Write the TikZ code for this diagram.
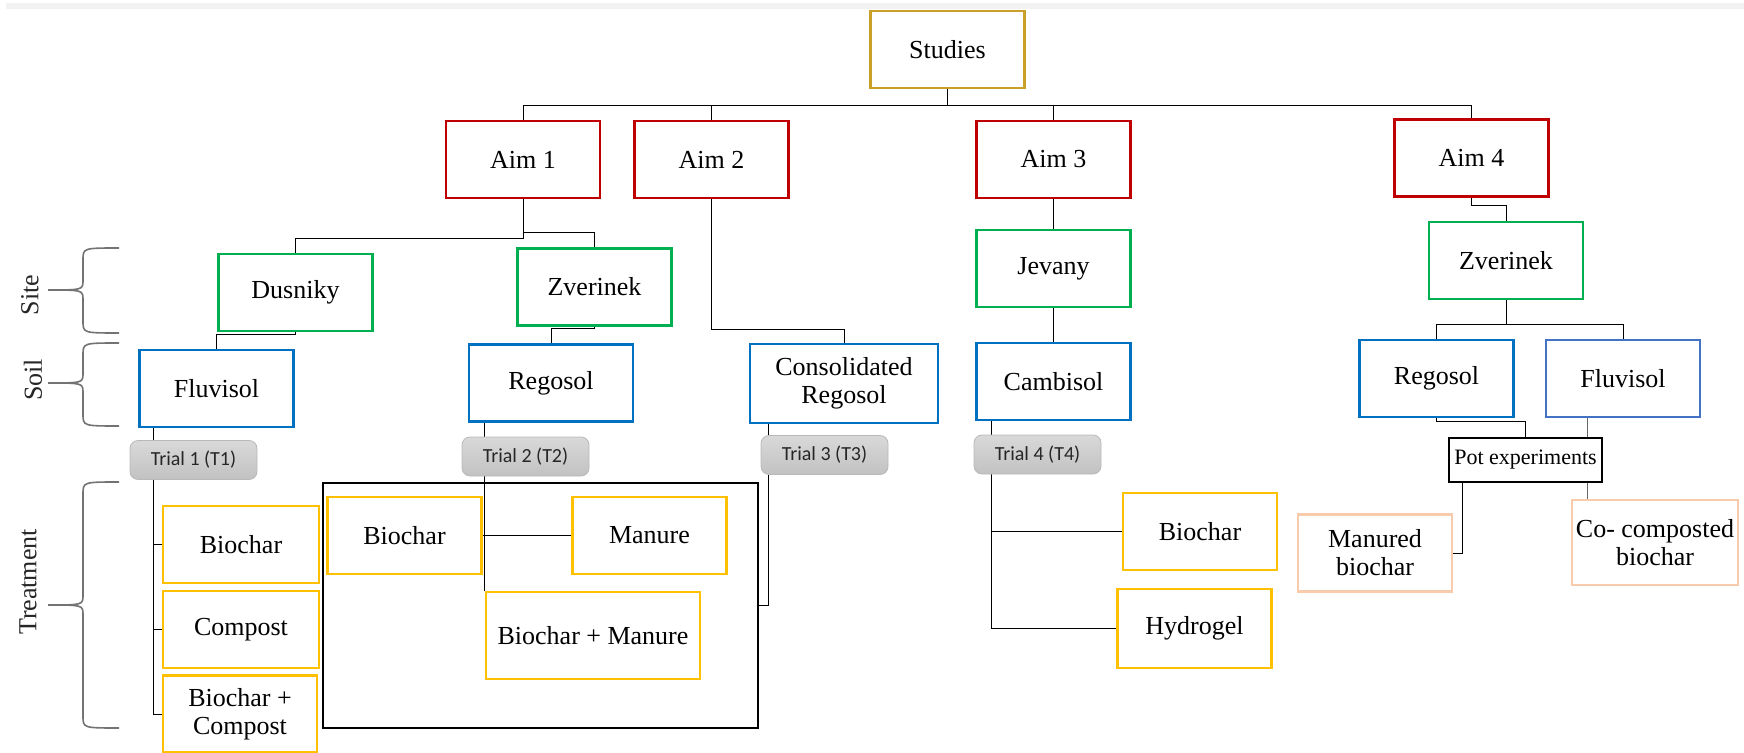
\documentclass[tikz,border=0pt]{standalone}
\usepackage{fontspec}
\setmainfont{Liberation Serif}
\newfontfamily\trialfont{Carlito}
\usetikzlibrary{backgrounds}

\definecolor{studyc}{RGB}{201,160,40}
\definecolor{aimc}{RGB}{192,0,0}
\definecolor{sitec}{RGB}{0,176,80}
\definecolor{soilc}{RGB}{0,112,192}
\definecolor{soilbc}{RGB}{68,114,196}
\definecolor{treatc}{RGB}{255,192,0}
\definecolor{potc}{RGB}{248,203,173}

\tikzset{
  box/.style={draw, line width=1.2pt, fill=white, align=center,
    minimum width=77pt, minimum height=38.5pt, inner sep=2pt,
    font=\fontsize{13}{14}\selectfont},
  study/.style={box, draw=studyc},
  aim/.style={box, draw=aimc},
  site/.style={box, draw=sitec},
  soil/.style={box, draw=soilc},
  treat/.style={box, draw=treatc},
  potbox/.style={box, draw=potc},
  trial/.style={draw=gray!55, rounded corners=4pt, top color=gray!30,
    bottom color=gray!48, minimum width=63.5pt, minimum height=19.5pt,
    inner sep=1pt, text=black!85, font=\trialfont\fontsize{10}{12}\selectfont},
  side/.style={rotate=90, text=black!85, font=\fontsize{13}{14}\selectfont},
  brace/.style={draw=black!55, line width=0.8pt},
  link/.style={line width=1.2pt},
}

\begin{document}
\begin{tikzpicture}[x=0.5pt, y=-0.5pt]
  \useasboundingbox (0,0) rectangle (1744,753);
  \fill[black!5] (6,3) rectangle (1744,9);

  % Top levels
  \node[study] (studies) at (947.5,49.5) {Studies};
  \node[aim] (aim1) at (523,159.5) {Aim 1};
  \node[aim] (aim2) at (711.5,159.5) {Aim 2};
  \node[aim] (aim3) at (1053.5,159.5) {Aim 3};
  \node[aim] (aim4) at (1471.5,158) {Aim 4};

  % Sites
  \node[site] (dusniky) at (295.5,292.5) {Dusniky};
  \node[site] (zverinekA) at (594.5,287) {Zverinek};
  \node[site] (jevany) at (1053.5,268.5) {Jevany};
  \node[site] (zverinekB) at (1506,260.5) {Zverinek};

  % Soils
  \node[soil] (fluvisolA) at (216.5,388.5) {Fluvisol};
  \node[soil, minimum width=82pt] (regosolA) at (551,383) {Regosol};
  \node[soil, minimum width=94pt, minimum height=39.5pt] (consregosol) at (844,383.5) {Consolidated\\Regosol};
  \node[soil] (cambisol) at (1053.5,381.5) {Cambisol};
  \node[soil] (regosolB) at (1436.5,378.5) {Regosol};
  \node[soil, draw=soilbc] (fluvisolB) at (1623,378.5) {Fluvisol};

  % Trials
  \node[trial] (trial1) at (193.5,460) {Trial 1 (T1)};
  \node[trial] (trial2) at (525.5,456.5) {Trial 2 (T2)};
  \node[trial] (trial3) at (824.5,455) {Trial 3 (T3)};
  \node[trial] (trial4) at (1037.5,454.5) {Trial 4 (T4)};

  % Treatments
  \node[treat, minimum width=78pt] (biocharA) at (241,544.5) {Biochar};
  \node[treat, minimum width=78pt] (compost) at (241,629.5) {Compost};
  \node[treat] (biocharcompost) at (240,714) {Biochar +\\Compost};

  \node[draw, line width=1.2pt, minimum width=217.5pt, minimum height=122.5pt] (group2) at (540.5,605.5) {};
  \node[treat] (biocharB) at (404.5,535.5) {Biochar};
  \node[treat] (manure) at (649.5,535.5) {Manure};
  \node[treat, minimum width=107pt, minimum height=43.5pt] (biocharmanure) at (593,635.5) {Biochar + Manure};

  \node[treat] (biocharC) at (1200,531.5) {Biochar};
  \node[treat, minimum height=39.5pt] (hydrogel) at (1194.5,628.5) {Hydrogel};

  \node[box, minimum width=76.5pt, minimum height=22pt, font=\fontsize{11}{12}\selectfont] (pot) at (1525.5,460) {Pot experiments};
  \node[potbox] (manured) at (1375,553) {Manured\\biochar};
  \node[potbox, minimum width=83pt, minimum height=42.5pt] (cocomposted) at (1655,542.5) {Co- composted\\biochar};

  % Left braces
  \foreach \yt/\yc/\yb in {248/290/333, 343/383/426, 482/605/728} {
    \draw[brace] (119,\yt) .. controls (83,\yt) .. (83,{\yt+12}) -- (83,{\yc-10})
      .. controls (83,\yc) .. (48,\yc) .. controls (83,\yc) .. (83,{\yc+10})
      -- (83,{\yb-12}) .. controls (83,\yb) .. (119,\yb);
  }
  \node[side] (sitelbl) at (30,295) {Site};
  \node[side] (soillbl) at (33,380) {Soil};
  \node[side] (treatlbl) at (28,582) {Treatment};

  \begin{scope}[on background layer, link]
    % Studies to aims
    \foreach \a in {aim1,aim2,aim3,aim4}
      \draw (studies.south) -- ++(0,-8pt) -| (\a.north);

    % Aims to sites and soils
    \draw (aim1.south) -- ++(0,-19.5pt) -| (dusniky.north);
    \draw (aim1.south) -- ++(0,-16.5pt) -| (zverinekA.north);
    \draw (aim2.south) -- ++(0,-65pt) -| (consregosol.north);
    \draw (aim3) -- (jevany) -- (cambisol);
    \draw (aim4.south) -- ++(0,-4pt) -| (zverinekB.north);

    \draw (dusniky.south) -- ++(0,-1pt) -| (fluvisolA.north);
    \draw (zverinekA.south) -- ++(0,-1pt) -| (regosolA.north);
    \draw (zverinekB.south) -- ++(0,-12pt) -| (regosolB.north);
    \draw (zverinekB.south) -- ++(0,-12pt) -| (fluvisolB.north);

    % Trial 1
    \draw ([xshift=-4pt]biocharA.west |- fluvisolA.south) |- (biocharcompost.west);
    \foreach \t in {biocharA,compost}
      \draw (\t.west) -- ++(-4pt,0);

    % Trial 2
    \draw (biocharmanure.north west |- regosolA.south) -- (biocharmanure.north west);
    \draw (biocharB.east) -- (manure.west);

    % Trial 3
    \draw ([xshift=10pt]consregosol.south west) |- (group2.east);

    % Trial 4
    \draw ([xshift=8pt]cambisol.south west) |- (hydrogel.west);
    \draw ([xshift=8pt]cambisol.south west |- biocharC.west) -- (biocharC.west);

    % Pot experiments
    \draw (regosolB.south) -- ++(0,-1.5pt) -| (pot.north);
    \draw ([xshift=7.5pt]pot.south west) |- (manured.east);
    \draw[line width=0.5pt, black!60] ([xshift=-8pt]pot.north east |- fluvisolB.south) -- ([xshift=-8pt]pot.north east);
    \draw[line width=0.5pt, black!60] ([xshift=-8pt]pot.south east) -- ([xshift=-8pt]pot.south east |- cocomposted.north);
  \end{scope}
\end{tikzpicture}
\end{document}
